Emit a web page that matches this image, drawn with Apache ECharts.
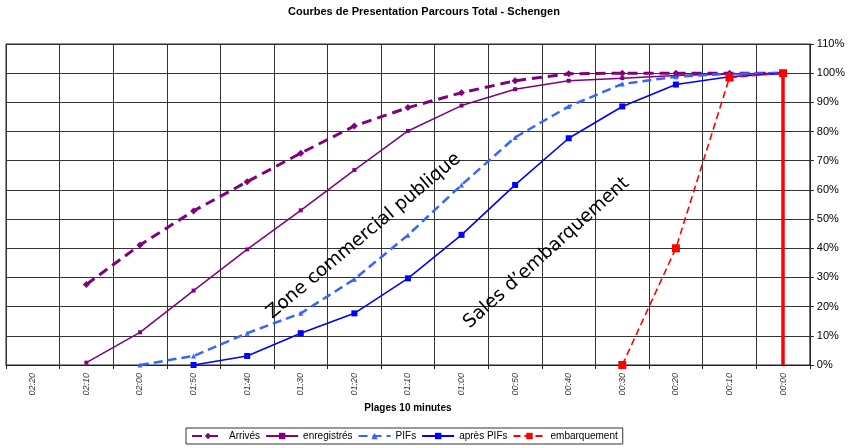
<!DOCTYPE html>
<html>
<head>
<meta charset="utf-8">
<script src="https://cdn.jsdelivr.net/npm/echarts@6/dist/echarts.min.js"></script>
<style>
  html, body { margin: 0; padding: 0; background: #fff; }
  #chart { width: 848px; height: 448px; }
</style>
</head>
<body>
<div id="chart"></div>
<script>
// Time slots before departure (10-minute ranges)
const categories = ['02:20', '02:10', '02:00', '01:50', '01:40', '01:30', '01:20', '01:10', '01:00', '00:50', '00:40', '00:30', '00:20', '00:10', '00:00'];

// Cumulative share of passengers (0..1)
const arrives      = [null, 0.276, 0.411, 0.528, 0.628, 0.726, 0.819, 0.882, 0.933, 0.974, 0.998, 1.0, 1.0, 1.0, 1.0];
const enregistres  = [null, 0.008, 0.112, 0.255, 0.396, 0.530, 0.668, 0.802, 0.889, 0.945, 0.974, 0.983, 0.992, 0.997, 1.0];
const pifs         = [null, null, 0.0, 0.031, 0.109, 0.177, 0.294, 0.445, 0.617, 0.780, 0.886, 0.963, 0.988, 0.998, 1.0];
const apresPifs    = [null, null, null, 0.0, 0.031, 0.109, 0.177, 0.297, 0.446, 0.617, 0.777, 0.886, 0.961, 0.988, 1.0];
const embarquement = [null, null, null, null, null, null, null, null, null, null, null, 0.0, 0.40, 0.985, 1.0];

// Y axis range and step
const yMin = 0, yMax = 1.1, yStep = 0.1;

const chart = echarts.init(document.getElementById('chart'), null, { renderer: 'canvas' });

const baseFont = 'Liberation Sans, Arial, sans-serif';
const zoneFont = '18.5px "DejaVu Sans", Verdana, sans-serif';

chart.setOption({
  animation: false,
  backgroundColor: '#ffffff',
  title: {
    text: 'Courbes de Presentation Parcours Total - Schengen',
    left: 'center',
    top: 1,
    textStyle: { fontFamily: baseFont, fontSize: 11, fontWeight: 'bold', color: '#000' }
  },
  grid: {
    left: 6, right: 38, top: 44, bottom: 83,
    show: true, borderColor: '#222', borderWidth: 1
  },
  legend: {
    bottom: 4,
    left: 186,
    padding: [3, 5, 3, 5],
    itemGap: 5,
    itemWidth: 32,
    itemHeight: 8,
    borderColor: '#333',
    borderWidth: 1,
    textStyle: { fontFamily: baseFont, fontSize: 10, color: '#000' },
    data: ['Arrivés', 'enregistrés', 'PIFs', 'après PIFs', 'embarquement']
  },
  xAxis: {
    type: 'category',
    data: categories,
    boundaryGap: true,
    name: 'Plages 10 minutes',
    nameLocation: 'middle',
    nameGap: 37,
    nameTextStyle: { fontFamily: baseFont, fontSize: 10, fontWeight: 'bold', color: '#000' },
    axisLine: { lineStyle: { color: '#222', width: 1 } },
    axisTick: { show: true, length: 4, lineStyle: { color: '#222' } },
    axisLabel: {
      rotate: 90,
      fontFamily: baseFont,
      fontSize: 9,
      fontStyle: 'italic',
      color: '#333',
      margin: 8
    },
    splitLine: { show: true, interval: 0, lineStyle: { color: '#333', width: 1 } }
  },
  yAxis: {
    type: 'value',
    position: 'right',
    min: yMin,
    max: yMax,
    interval: yStep,
    axisLine: { show: true, lineStyle: { color: '#222' } },
    axisTick: { show: true, length: 4, lineStyle: { color: '#222' } },
    axisLabel: {
      fontFamily: baseFont,
      fontSize: 11,
      color: '#000',
      margin: 7,
      formatter: v => Math.round(v * 100) + '%'
    },
    splitLine: { show: true, lineStyle: { color: '#333', width: 1 } }
  },
  graphic: [
    {
      type: 'text',
      rotation: 40 * Math.PI / 180,
      style: { text: 'Zone commercial publique', font: zoneFont, fill: '#000', x: 0, y: 0 },
      position: [263, 308],
      z: 50
    },
    {
      type: 'text',
      rotation: 42 * Math.PI / 180,
      style: { text: 'Sales d\u2019embarquement', font: zoneFont, fill: '#000', x: 0, y: 0 },
      position: [460, 318],
      z: 50
    }
  ],
  series: [
    {
      name: 'Arrivés',
      type: 'line',
      data: arrives,
      color: '#800080',
      symbol: 'diamond',
      symbolSize: 7,
      lineStyle: { width: 3, type: [10, 6], color: '#800080' },
      itemStyle: { color: '#800080' },
      z: 5
    },
    {
      name: 'enregistrés',
      type: 'line',
      data: enregistres,
      color: '#800080',
      symbol: 'rect',
      symbolSize: 4,
      lineStyle: { width: 1.5, color: '#800080' },
      itemStyle: { color: '#800080' },
      z: 5
    },
    {
      name: 'PIFs',
      type: 'line',
      data: pifs,
      color: '#3366ff',
      symbol: 'triangle',
      symbolSize: 5,
      lineStyle: { width: 2.5, type: [9, 5], color: '#3366ff' },
      itemStyle: { color: '#3366ff' },
      z: 5
    },
    {
      name: 'après PIFs',
      type: 'line',
      data: apresPifs,
      color: '#0000ff',
      symbol: 'rect',
      symbolSize: 6,
      lineStyle: { width: 1.6, color: '#0000ff' },
      itemStyle: { color: '#0000ff' },
      z: 6
    },
    {
      name: 'embarquement',
      type: 'line',
      data: embarquement,
      color: '#ff0000',
      symbol: 'rect',
      symbolSize: 8,
      lineStyle: { width: 1.6, type: [7, 4], color: '#ff0000' },
      itemStyle: { color: '#ff0000' },
      z: 7,
      markLine: {
        silent: true,
        symbol: ['none', 'none'],
        label: { show: false },
        lineStyle: { type: 'solid', width: 3.5, color: '#ff0000' },
        data: [[{ coord: ['00:00', 0] }, { coord: ['00:00', 1] }]]
      }
    }
  ]
});
</script>
</body>
</html>
